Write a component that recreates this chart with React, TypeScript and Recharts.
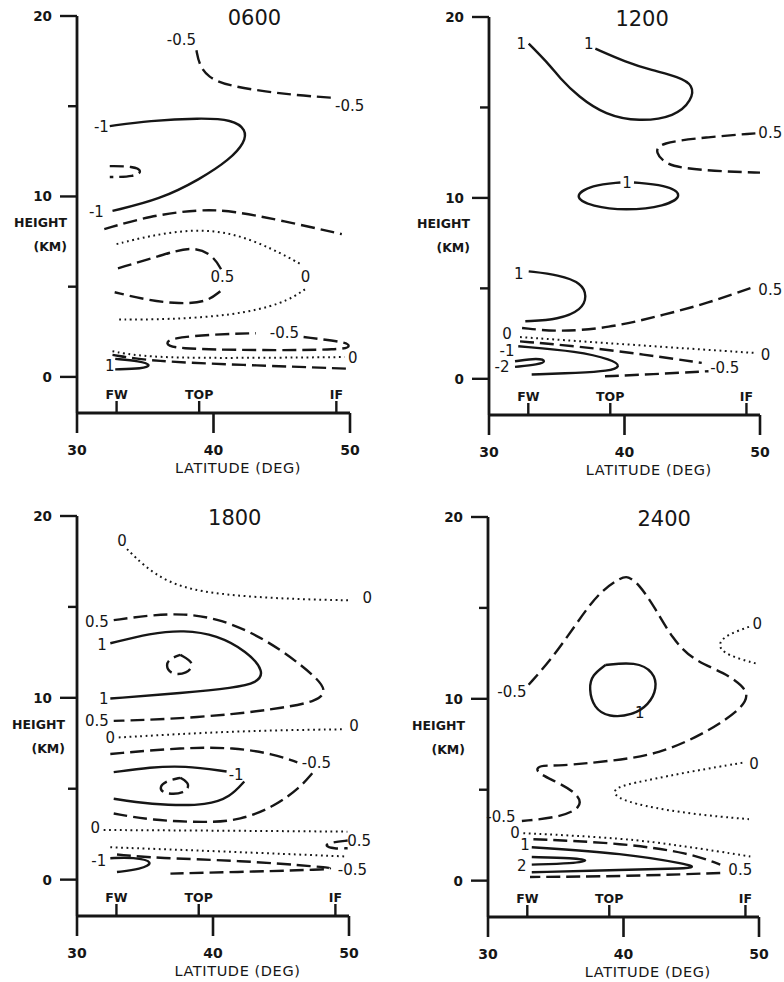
import React from 'react';
import { LineChart, Line, XAxis, YAxis, ReferenceDot } from 'recharts';

type Pt = [number, number];
type Tag = [number, number, string];

const INK = '#161616';
const FONT = '"DejaVu Sans", "Liberation Sans", sans-serif';

const latTicks = [30, 40, 50];
const heightTicks = [0, 5, 10, 15, 20];
const labelledHeights = [0, 10, 20];
const siteNames = ['FW', 'TOP', 'IF'];
const siteLats = [32.9, 38.95, 49.0];

// ---- 0600 ----
const a06: Pt[] = [[38.75, 18.1], [38.95, 17.3], [39.6, 16.6], [41.0, 16.15], [43.9, 15.8], [46.3, 15.6], [49.0, 15.45]];
const b06: Pt[] = [[32.4, 13.9], [35.3, 14.2], [39.0, 14.35], [41.4, 14.26], [42.4, 13.7], [42.3, 13.0], [41.2, 12.05], [39.0, 10.95], [36.1, 9.84], [32.6, 9.2]];
const c06: Pt[] = [[32.4, 11.68], [34.1, 11.68], [34.84, 11.41], [34.2, 11.09], [32.4, 11.08]];
const d06: Pt[] = [[32.0, 8.19], [35.3, 8.92], [39.0, 9.29], [41.4, 9.2], [45.1, 8.65], [49.4, 7.91]];
const e06: Pt[] = [[32.9, 7.36], [35.3, 7.82], [38.5, 8.19], [41.4, 8.0], [44.4, 7.08], [46.5, 6.2]];
const e06b: Pt[] = [[46.7, 4.85], [45.1, 4.05], [41.4, 3.4], [36.55, 3.18], [32.9, 3.18]];
const f06: Pt[] = [[33.0, 6.02], [36.1, 6.72], [38.5, 7.27], [40.0, 6.72], [40.6, 5.9]];
const f06b: Pt[] = [[40.5, 4.75], [39.5, 4.14], [37.5, 4.05], [35.3, 4.23], [32.76, 4.69]];
const g06: Pt[] = [[46.6, 2.21], [49.7, 1.93], [50.0, 1.72], [49.7, 1.5], [43.1, 1.47], [37.0, 1.56], [36.5, 1.84], [36.8, 2.15], [40.0, 2.36], [43.1, 2.42]];
const h06: Pt[] = [[32.6, 1.42], [35.3, 1.05], [43.1, 1.05], [49.6, 1.1]];
const i06: Pt[] = [[32.6, 1.22], [35.5, 0.86], [42.0, 0.67], [49.7, 0.46]];
const j06: Pt[] = [[32.8, 1.0], [34.6, 0.88], [35.5, 0.66], [34.8, 0.45], [32.8, 0.42]];
const tags0600: Tag[] = [[37.65, 18.65, '-0.5'], [49.98, 15.0, '-0.5'], [31.79, 13.85, '-1'], [31.42, 9.12, '-1'], [40.65, 5.52, '0.5'], [46.75, 5.52, '0'], [45.2, 2.43, '-0.5'], [50.2, 1.05, '0'], [32.4, 0.59, '1']];

// ---- 1200 ----
const a12: Pt[] = [[32.93, 18.53], [34.6, 17.25], [35.14, 16.69], [36.6, 15.59], [38.6, 14.58], [41.05, 14.21], [43.75, 14.49], [44.98, 15.4], [45.1, 16.23], [44.0, 16.69], [42.0, 17.06], [40.06, 17.52], [37.85, 18.25]];
const b12: Pt[] = [[49.66, 13.57], [46.0, 13.35], [42.52, 13.05], [42.28, 12.5], [43.0, 11.9], [44.24, 11.64], [47.44, 11.45], [50.0, 11.4]];
const c12: Pt[] = [[40.7, 10.85], [43.0, 10.72], [44.44, 10.17], [43.0, 9.52], [40.06, 9.3], [37.6, 9.52], [36.13, 10.07], [37.6, 10.72], [39.7, 10.85]];
const d12: Pt[] = [[32.93, 5.94], [35.14, 5.75], [36.86, 5.29], [37.23, 4.56], [36.86, 3.82], [35.14, 3.27], [32.68, 3.18]];
const e12: Pt[] = [[32.44, 2.81], [35.14, 2.59], [38.83, 2.81], [42.52, 3.46], [46.2, 4.19], [49.66, 5.11]];
const f12: Pt[] = [[32.29, 2.31], [40.28, 1.89], [49.63, 1.43]];
const g12: Pt[] = [[32.29, 2.07], [36.6, 1.8], [41.5, 1.34], [45.7, 0.88]];
const h12: Pt[] = [[32.16, 1.8], [36.6, 1.52], [39.06, 1.06], [39.8, 0.69], [38.8, 0.42], [36.6, 0.33], [33.15, 0.24]];
const i12: Pt[] = [[31.92, 0.97], [33.64, 1.16], [34.26, 0.97], [33.64, 0.79], [31.92, 0.66]];
const j12: Pt[] = [[38.56, 0.14], [42.0, 0.25], [46.2, 0.42]];
const tags1200: Tag[] = [[32.39, 18.53, '1'], [37.36, 18.53, '1'], [50.76, 13.57, '0.5'], [40.18, 10.8, '1'], [32.19, 5.81, '1'], [50.76, 4.93, '0.5'], [31.33, 2.45, '0'], [31.33, 1.55, '-1'], [30.96, 0.65, '-2'], [50.4, 1.34, '0'], [47.4, 0.6, '-0.5']];

// ---- 1800 ----
const a18: Pt[] = [[33.68, 18.18], [34.9, 17.27], [36.63, 16.36], [39.08, 15.82], [42.76, 15.55], [46.44, 15.42], [50.0, 15.36]];
const b18: Pt[] = [[32.7, 14.27], [35.4, 14.55], [37.85, 14.64], [40.3, 14.36], [42.76, 13.64], [45.2, 12.55], [47.67, 11.09], [48.35, 10.36], [47.67, 9.82], [45.2, 9.45], [41.53, 9.09], [36.63, 8.82], [32.7, 8.73]];
const c18: Pt[] = [[32.45, 13.0], [35.4, 13.55], [37.85, 13.73], [40.3, 13.45], [42.5, 12.55], [43.8, 11.45], [43.25, 10.82], [41.53, 10.55], [37.85, 10.27], [32.45, 9.96]];
const d18: Pt[] = [[37.6, 12.36], [38.7, 11.9], [38.1, 11.31], [36.87, 11.27], [36.5, 11.82], [36.87, 12.18], [37.6, 12.36]];
const e18: Pt[] = [[33.07, 7.82], [41.53, 8.18], [49.63, 8.27]];
const f18: Pt[] = [[32.45, 6.91], [37.85, 7.27], [41.53, 7.27], [44.48, 6.91], [46.2, 6.45]];
const f18b: Pt[] = [[47.3, 5.85], [46.44, 5.09], [44.48, 4.0], [42.0, 3.27], [39.57, 3.13], [35.4, 3.27], [32.7, 3.64]];
const g18: Pt[] = [[32.7, 5.91], [35.4, 6.18], [37.85, 6.27], [41.0, 5.95]];
const g18b: Pt[] = [[42.3, 5.4], [41.28, 4.55], [39.57, 4.09], [36.63, 4.09], [34.17, 4.27], [32.7, 4.45]];
const h18: Pt[] = [[37.6, 5.6], [38.34, 5.27], [37.97, 4.73], [36.38, 4.69], [36.0, 5.09], [36.63, 5.45], [37.6, 5.6]];
const i18: Pt[] = [[31.96, 2.73], [41.53, 2.69], [49.88, 2.64]];
const j18: Pt[] = [[49.9, 2.15], [48.65, 2.05], [48.16, 1.87], [48.9, 1.69], [49.9, 1.73]];
const k18: Pt[] = [[32.45, 1.78], [40.8, 1.55], [49.9, 1.27]];
const l18: Pt[] = [[32.45, 1.18], [34.17, 1.24], [35.77, 0.96], [34.66, 0.56], [32.94, 0.42]];
const m18: Pt[] = [[32.94, 1.38], [35.9, 1.18], [42.0, 1.05], [48.0, 0.7], [48.9, 0.62], [48.0, 0.55], [43.25, 0.45], [36.87, 0.33]];
const tags1800: Tag[] = [[33.31, 18.64, '0'], [51.35, 15.49, '0'], [31.47, 14.18, '0.5'], [31.84, 12.91, '1'], [31.96, 9.91, '1'], [31.47, 8.73, '0.5'], [32.45, 7.78, '0'], [50.37, 8.45, '0'], [47.6, 6.4, '-0.5'], [41.7, 5.73, '-1'], [31.35, 2.82, '0'], [50.74, 2.15, '0.5'], [31.6, 1.05, '-1'], [50.25, 0.55, '-0.5']];

// ---- 2400 ----
const a24: Pt[] = [[33.0, 10.77], [34.73, 12.23], [36.45, 14.05], [38.18, 15.88], [39.9, 16.7], [40.3, 16.75], [41.13, 16.33], [42.36, 14.96], [43.6, 13.32], [45.07, 12.14], [47.54, 11.41], [48.8, 10.7], [49.2, 10.2], [48.77, 9.49], [46.3, 8.21], [42.6, 6.93], [38.9, 6.57], [35.2, 6.3], [33.99, 6.35], [33.55, 6.17], [33.74, 5.88], [35.22, 5.38], [36.7, 4.74], [36.95, 4.01], [35.22, 3.47], [32.5, 3.28]];
const b24: Pt[] = [[38.67, 11.86], [40.89, 12.04], [42.24, 11.5], [42.49, 10.58], [41.87, 9.67], [40.64, 9.09], [38.92, 8.98], [37.8, 9.49], [37.44, 10.58], [37.68, 11.31], [38.67, 11.86]];
const c24: Pt[] = [[49.26, 13.96], [47.54, 13.5], [46.92, 12.96], [47.54, 12.41], [49.75, 11.95]];
const d24: Pt[] = [[48.77, 6.48], [45.07, 6.02], [41.38, 5.47], [39.16, 5.11], [39.4, 4.56], [41.38, 4.11], [45.07, 3.65], [49.26, 3.38]];
const e24: Pt[] = [[32.61, 2.61], [40.0, 2.34], [44.5, 1.9], [49.36, 1.33]];
const f24: Pt[] = [[33.35, 2.28], [40.0, 2.06], [44.93, 1.51], [47.14, 0.88]];
const f24b: Pt[] = [[47.14, 0.42], [40.0, 0.24], [33.1, 0.2]];
const g24: Pt[] = [[33.23, 1.84], [40.0, 1.51], [44.93, 0.88], [45.15, 0.75], [44.68, 0.66], [40.0, 0.6], [33.23, 0.46]];
const h24: Pt[] = [[33.23, 1.3], [36.3, 1.24], [37.6, 1.11], [36.3, 0.95], [33.23, 0.88]];
const tags2400: Tag[] = [[31.77, 10.4, '-0.5'], [49.88, 14.14, '0'], [41.0, 9.22, '-1'], [49.63, 6.39, '0'], [30.96, 3.5, '-0.5'], [32.0, 2.61, '0'], [32.73, 1.97, '1'], [32.49, 0.78, '2'], [48.62, 0.6, '0.5']];

type Kind = 'solid' | 'dash' | 'dot';

const lineLook: Record<Kind, { dash?: string; width: number }> = {
  solid: { width: 2.4 },
  dash: { dash: '14 6', width: 2.4 },
  dot: { dash: '1.8 3.6', width: 2 },
};

const panels = [
  {
    time: '0600', left: 0, top: 0, titleLat: 43.0, yGap: 10,
    margin: { top: 16, right: 42, bottom: 18, left: 17 },
    lines: [[a06, 'dash'], [b06, 'solid'], [c06, 'dash'], [d06, 'dash'], [e06, 'dot'], [e06b, 'dot'], [f06, 'dash'], [f06b, 'dash'], [g06, 'dash'], [h06, 'dot'], [i06, 'dash'], [j06, 'solid']] as [Pt[], Kind][],
    tags: tags0600,
  },
  {
    time: '1200', left: 392, top: 0, titleLat: 41.3, yGap: 19,
    margin: { top: 17, right: 24, bottom: 16, left: 37 },
    lines: [[a12, 'solid'], [b12, 'dash'], [c12, 'solid'], [d12, 'solid'], [e12, 'dash'], [f12, 'dot'], [g12, 'dash'], [h12, 'solid'], [i12, 'solid'], [j12, 'dash']] as [Pt[], Kind][],
    tags: tags1200,
  },
  {
    time: '1800', left: 0, top: 491, titleLat: 41.6, yGap: 12,
    margin: { top: 25, right: 43, bottom: 6, left: 17 },
    lines: [[a18, 'dot'], [b18, 'dash'], [c18, 'solid'], [d18, 'dash'], [e18, 'dot'], [f18, 'dash'], [f18b, 'dash'], [g18, 'solid'], [g18b, 'solid'], [h18, 'dash'], [i18, 'dot'], [j18, 'dash'], [k18, 'dot'], [l18, 'solid'], [m18, 'dash']] as [Pt[], Kind][],
    tags: tags1800,
  },
  {
    time: '2400', left: 392, top: 491, titleLat: 43.0, yGap: 23,
    margin: { top: 26, right: 25, bottom: 5, left: 36 },
    lines: [[a24, 'dash'], [b24, 'solid'], [c24, 'dot'], [d24, 'dot'], [e24, 'dot'], [f24, 'dash'], [f24b, 'dash'], [g24, 'solid'], [h24, 'solid']] as [Pt[], Kind][],
    tags: tags2400,
  },
];

const YTick = (props: any) => {
  const { x, y, payload } = props;
  const major = labelledHeights.includes(payload.value);
  return (
    <g>
      <line x1={x - (major ? 17 : 9)} x2={x} y1={y} y2={y} stroke={INK} strokeWidth={2.4} />
      {major && (
        <text x={x - 25} y={y} textAnchor="end" dominantBaseline="central" fontSize={13.5} fontWeight="bold" fontFamily={FONT} fill={INK}>
          {payload.value}
        </text>
      )}
    </g>
  );
};

const XTick = (props: any) => {
  const { x, y, payload } = props;
  return (
    <g>
      <line x1={x} x2={x} y1={y} y2={y + 20} stroke={INK} strokeWidth={2.6} />
      <text x={x} y={y + 37} textAnchor="middle" dominantBaseline="central" fontSize={14} fontWeight="bold" fontFamily={FONT} fill={INK}>
        {payload.value}
      </text>
    </g>
  );
};

function Panel({ p }: { p: (typeof panels)[number] }) {
  return (
    <div style={{ position: 'absolute', left: p.left, top: p.top }}>
      <LineChart width={392} height={491} margin={p.margin}>
        <XAxis
          type="number"
          dataKey="lat"
          domain={[30, 50]}
          ticks={latTicks}
          interval={0}
          allowDataOverflow
          height={60}
          tickSize={0}
          tickMargin={0}
          tickLine={false}
          tick={XTick}
          axisLine={{ stroke: INK, strokeWidth: 2.8 }}
          label={(lp: any) => {
            const vb = lp.viewBox;
            return (
              <text x={vb.x + vb.width * 0.59} y={vb.y + 55} textAnchor="middle" dominantBaseline="central" fontSize={14.5} fontFamily={FONT} fill={INK} letterSpacing={0.6}>
                LATITUDE (DEG)
              </text>
            );
          }}
        />
        <YAxis
          type="number"
          domain={[-2, 20]}
          ticks={heightTicks}
          interval={0}
          allowDataOverflow
          width={60}
          tickSize={0}
          tickMargin={0}
          tickLine={false}
          tick={YTick}
          axisLine={{ stroke: INK, strokeWidth: 2.8 }}
          label={(lp: any) => {
            const vb = lp.viewBox;
            const ax = vb.x + vb.width - p.yGap;
            return (
              <g fontSize={12.5} fontWeight="bold" fontFamily={FONT} fill={INK}>
                <text x={ax} y={vb.y + vb.height * 0.52} textAnchor="end" dominantBaseline="central">HEIGHT</text>
                <text x={ax} y={vb.y + vb.height * 0.58} textAnchor="end" dominantBaseline="central">(KM)</text>
              </g>
            );
          }}
        />
        {p.lines.map(([pts, kind], i) => (
          <Line
            key={'c' + i}
            data={pts.map(([lat, h]) => ({ lat, h }))}
            dataKey="h"
            type="basis"
            stroke={INK}
            strokeWidth={lineLook[kind].width}
            strokeDasharray={lineLook[kind].dash}
            dot={false}
            activeDot={false}
            isAnimationActive={false}
          />
        ))}
        {siteNames.map((name, i) => (
          <ReferenceDot
            key={'s' + i}
            x={siteLats[i]}
            y={-2}
            r={0}
            ifOverflow="visible"
            shape={(sp: any) => (
              <g>
                <line x1={sp.cx} x2={sp.cx} y1={sp.cy - 12} y2={sp.cy} stroke={INK} strokeWidth={2.4} />
                <text x={sp.cx} y={sp.cy - 19} textAnchor="middle" dominantBaseline="central" fontSize={12.5} fontWeight="bold" fontFamily={FONT} fill={INK}>
                  {name}
                </text>
              </g>
            )}
          />
        ))}
        {p.tags.map(([lat, h, text], i) => (
          <ReferenceDot
            key={'t' + i}
            x={lat}
            y={h}
            r={0}
            ifOverflow="visible"
            shape={(sp: any) => (
              <text x={sp.cx} y={sp.cy} textAnchor="middle" dominantBaseline="central" fontSize={15} fontFamily={FONT} fill={INK}>
                {text}
              </text>
            )}
          />
        ))}
        <ReferenceDot
          x={p.titleLat}
          y={19.9}
          r={0}
          ifOverflow="visible"
          shape={(sp: any) => (
            <text x={sp.cx} y={sp.cy} textAnchor="middle" dominantBaseline="central" fontSize={21} fontFamily={FONT} fill={INK}>
              {p.time}
            </text>
          )}
        />
      </LineChart>
    </div>
  );
}

export default function App() {
  return (
    <div style={{ position: 'absolute', left: 0, top: 0, width: 784, height: 982, background: '#fff' }}>
      {panels.map((p) => (
        <Panel key={p.time} p={p} />
      ))}
    </div>
  );
}
